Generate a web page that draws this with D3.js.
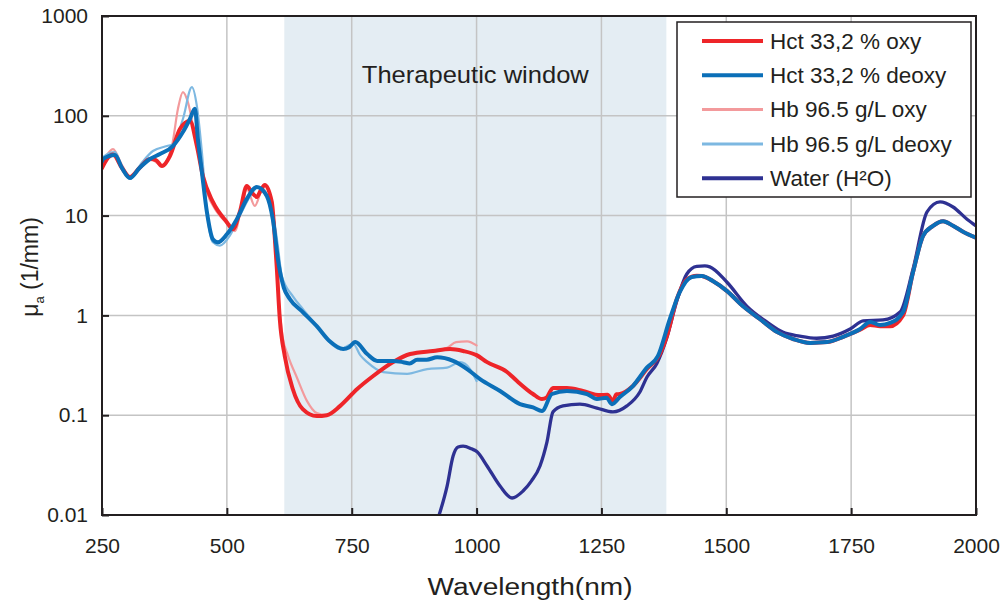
<!DOCTYPE html>
<html>
<head>
<meta charset="utf-8">
<script src="https://cdn.jsdelivr.net/npm/d3@7/dist/d3.min.js"></script>
<style>
  body { margin: 0; background: #fff; }
  #container { width: 1002px; height: 603px; }
  text { font-family: "Liberation Sans", Arial, sans-serif; fill: #231f20; }
</style>
</head>
<body>
<div id="container"></div>
<script>

var width = 1002;
var height = 603;

// wavelength (nm), mu_a (1/mm)
var hctOxy = [[250,30],[252,31.4],[262,38],[272,41],[290,30],[306,24.4],[325,30],[346,36.9],[358,36],[370,31.4],[386,39.5],
  [406,73.8],[426,88.7],[440,49.8],[452,24.9],[472,13.7],[500,8.6],[512,7.3],[526,10.9],[540,19.8],[550,17],[560,15.4],
  [568,18],[576,20.3],[590,13.7],[596,6],[600,3],[606,0.92],[616,0.39],[632,0.183],[652,0.115],[680,0.098],[700,0.1],
  [727,0.124],[761,0.183],[793,0.247],[833,0.341],[867,0.41],[913,0.44],[947,0.46],[973,0.44],[1000,0.4],[1021,0.34],
  [1061,0.271],[1081,0.22],[1113,0.163],[1131,0.145],[1140,0.15],[1153,0.187],[1181,0.187],[1213,0.175],[1247,0.159],
  [1262,0.16],[1273,0.139],[1280,0.162],[1287,0.163],[1313,0.196],[1341,0.29],[1367,0.41],[1381,0.62],[1401,1.46],
  [1421,2.3],[1441,2.5],[1451,2.48],[1473,2.21],[1501,1.76],[1533,1.24],[1567,0.92],[1602,0.68],[1634,0.58],[1668,0.53],
  [1702,0.54],[1734,0.61],[1768,0.72],[1788,0.8],[1808,0.78],[1828,0.78],[1854,1.0],[1874,2.72],[1894,6.25],[1914,7.9],
  [1934,8.8],[1954,7.9],[1974,6.9],[2000,6.0]];

var hctDeoxy = [[250,35],[252,36.9],[276,40.5],[290,30],[306,23.8],[325,30],[346,36.9],[366,41.4],[392,49.8],[412,68.8],
  [426,92.9],[436,118],[442,58.6],[450,27.4],[460,10.9],[472,5.8],[482,5.4],[500,6.5],[520,9.2],[540,14.7],[560,19.4],
  [580,15.7],[592,9.2],[604,3.2],[614,1.9],[626,1.46],[652,1.08],[680,0.78],[706,0.55],[733,0.46],[745,0.48],[757,0.54],
  [781,0.41],[801,0.35],[833,0.35],[853,0.34],[866,0.33],[881,0.36],[900,0.36],[921,0.38],[953,0.35],[981,0.29],
  [1007,0.23],[1047,0.175],[1087,0.129],[1113,0.12],[1131,0.11],[1151,0.163],[1181,0.175],[1221,0.163],[1241,0.145],
  [1260,0.15],[1271,0.129],[1287,0.152],[1313,0.196],[1341,0.3],[1363,0.39],[1387,0.92],[1407,1.72],[1431,2.43],
  [1451,2.48],[1473,2.21],[1501,1.76],[1533,1.24],[1567,0.92],[1602,0.68],[1634,0.58],[1668,0.53],[1702,0.54],
  [1734,0.61],[1768,0.73],[1788,0.86],[1808,0.8],[1828,0.84],[1854,1.08],[1874,2.72],[1894,6.25],[1914,7.9],
  [1934,8.8],[1954,7.9],[1974,6.9],[2000,6.0]];

var hbOxy = [[250,34],[252,35.2],[272,46.4],[290,32],[306,24.4],[325,30],[346,36.9],[370,32.1],[390,49.8],[402,117],
  [412,173],[422,137],[436,62.8],[446,34.4],[460,17.2],[480,10.9],[506,7.9],[516,7.0],[530,12.5],[540,18.5],[556,12.5],
  [572,18.5],[586,12.5],[596,6.3],[602,1.9],[612,0.6],[622,0.4],[640,0.24],[660,0.14],[680,0.105],[700,0.1],[727,0.125],
  [761,0.185],[793,0.25],[833,0.34],[867,0.41],[913,0.44],[940,0.47],[959,0.54],[981,0.55],[1000,0.5]];

var hbDeoxy = [[250,37],[252,38.6],[276,43.4],[290,30],[306,23.3],[330,34],[352,44.4],[380,49.8],[392,52.1],[412,92.9],
  [430,194],[440,125],[450,43.4],[460,10.9],[472,5.4],[486,5.0],[506,6.3],[526,10],[552,17.2],[562,19.4],[580,16.4],
  [592,10.9],[602,5.0],[610,2.5],[632,1.56],[652,1.16],[680,0.78],[700,0.58],[727,0.46],[753,0.52],[767,0.4],[781,0.34],
  [813,0.27],[861,0.26],[901,0.29],[941,0.3],[967,0.34],[987,0.29],[1000,0.22]];

var water = [[925,0.01],[941,0.0195],[953,0.039],[963,0.048],[973,0.049],[990,0.046],[1001,0.043],[1021,0.031],
  [1047,0.0195],[1071,0.0148],[1093,0.0174],[1110,0.022],[1127,0.031],[1141,0.054],[1153,0.108],[1173,0.124],
  [1207,0.129],[1241,0.118],[1273,0.108],[1301,0.124],[1327,0.171],[1341,0.24],[1361,0.33],[1381,0.6],[1401,1.4],
  [1421,2.6],[1441,3.1],[1457,3.13],[1467,3.06],[1501,2.16],[1541,1.24],[1581,0.86],[1613,0.68],[1647,0.62],
  [1681,0.59],[1714,0.62],[1748,0.73],[1774,0.88],[1814,0.9],[1848,1.08],[1874,2.92],[1902,10.9],[1928,13.7],
  [1954,12.2],[1982,9.2],[2000,7.9]];

var windowBand = [615, 1380];
var xTicks = [250, 500, 750, 1000, 1250, 1500, 1750, 2000];
var yTicks = [0.01, 0.1, 1, 10, 100, 1000];

var series = [
  {name:'Hb 96.5 g/L oxy', data:hbOxy, color:'#f39a9c', w:2.2},
  {name:'Hb 96.5 g/L deoxy', data:hbDeoxy, color:'#7db8e1', w:2.2},
  {name:'Water (H\u00B2O)', data:water, color:'#2e3192', w:3.3},
  {name:'Hct 33,2 % oxy', data:hctOxy, color:'#ee2529', w:4},
  {name:'Hct 33,2 % deoxy', data:hctDeoxy, color:'#0b6fb8', w:4}
];
var legendOrder = ['Hct 33,2 % oxy', 'Hct 33,2 % deoxy', 'Hb 96.5 g/L oxy', 'Hb 96.5 g/L deoxy', 'Water (H\u00B2O)'];

var margin = {left:102, right:26, top:16, bottom:88};

var svg = d3.select('#container')
  .append('svg')
  .attr('width', width)
  .attr('height', height);

var x = d3.scaleLinear()
  .domain([250, 2000])
  .range([margin.left, width - margin.right]);

var y = d3.scaleLog()
  .domain([0.01, 1000])
  .range([height - margin.bottom, margin.top]);

svg.append('clipPath')
  .attr('id', 'clip')
  .append('rect')
  .attr('x', x(250)).attr('y', y(1000))
  .attr('width', x(2000) - x(250)).attr('height', y(0.01) - y(1000));

// therapeutic window
svg.append('rect')
  .attr('x', x(windowBand[0]))
  .attr('y', y(1000))
  .attr('width', x(windowBand[1]) - x(windowBand[0]))
  .attr('height', y(0.01) - y(1000))
  .style('fill', '#e4edf3');

// grid
svg.selectAll('.vgrid')
  .data(xTicks.slice(1, -1))
  .enter().append('line')
  .attr('class', 'vgrid')
  .attr('x1', function(d){return x(d);}).attr('x2', function(d){return x(d);})
  .attr('y1', y(1000)).attr('y2', y(0.01))
  .style('stroke', '#c4c4c4').style('stroke-width', 1.5);

svg.selectAll('.hgrid')
  .data(yTicks.slice(1, -1))
  .enter().append('line')
  .attr('class', 'hgrid')
  .attr('y1', function(d){return y(d);}).attr('y2', function(d){return y(d);})
  .attr('x1', x(250)).attr('x2', x(2000))
  .style('stroke', '#c4c4c4').style('stroke-width', 1.5);

svg.append('text')
  .attr('x', x((windowBand[0] + windowBand[1]) / 2))
  .attr('y', 83)
  .attr('text-anchor', 'middle')
  .attr('textLength', 227)
  .attr('lengthAdjust', 'spacingAndGlyphs')
  .style('font-size', '24.5px')
  .text('Therapeutic window');

var line = d3.line()
  .x(function(d){return x(d[0]);})
  .y(function(d){return y(d[1]);})
  .curve(d3.curveMonotoneX);

svg.append('g')
  .attr('clip-path', 'url(#clip)')
  .selectAll('.curve')
  .data(series)
  .enter().append('path')
  .attr('class', 'curve')
  .attr('d', function(d){return line(d.data);})
  .style('fill', 'none')
  .style('stroke', function(d){return d.color;})
  .style('stroke-width', function(d){return d.w;})
  .style('stroke-linejoin', 'round')
  .style('stroke-linecap', 'round');

// axes
var xAxis = svg.append('g')
  .attr('transform', 'translate(0,' + y(0.01) + ')')
  .call(d3.axisBottom(x).tickValues(xTicks).tickFormat(d3.format('d'))
    .tickSizeInner(-7).tickSizeOuter(0).tickPadding(23));

var yAxis = svg.append('g')
  .attr('transform', 'translate(' + x(250) + ',0)')
  .call(d3.axisLeft(y).tickValues(yTicks).tickFormat(function(d){return String(d);})
    .tickSizeInner(-7).tickSizeOuter(0).tickPadding(14));

[xAxis, yAxis].forEach(function(a){
  a.select('.domain').remove();
  a.selectAll('.tick line').style('stroke', '#231f20').style('stroke-width', 2);
  a.selectAll('.tick text')
    .style('font-family', '"Liberation Sans", Arial, sans-serif')
    .style('font-size', '21px')
    .style('fill', '#231f20');
});

// frame
svg.append('rect')
  .attr('x', x(250)).attr('y', y(1000))
  .attr('width', x(2000) - x(250)).attr('height', y(0.01) - y(1000))
  .style('fill', 'none')
  .style('stroke', '#231f20')
  .style('stroke-width', 2);

svg.append('text')
  .attr('x', 530)
  .attr('y', 595)
  .attr('text-anchor', 'middle')
  .attr('textLength', 205)
  .attr('lengthAdjust', 'spacingAndGlyphs')
  .style('font-size', '23px')
  .text('Wavelength(nm)');

var ylab = svg.append('text')
  .attr('transform', 'translate(38,' + 267 + ') rotate(-90)')
  .attr('text-anchor', 'middle')
  .style('font-size', '23px');
ylab.append('tspan').text('\u03BC');
ylab.append('tspan').attr('dy', 6).style('font-size', '13px').text('a');
ylab.append('tspan').attr('dy', -6).text(' (1/mm)');

// legend
var legend = svg.append('g');
legend.append('rect')
  .attr('x', 677).attr('y', 22)
  .attr('width', 294).attr('height', 175)
  .style('fill', '#fff')
  .style('stroke', '#231f20')
  .style('stroke-width', 1.5);

var rows = legend.selectAll('.row')
  .data(legendOrder.map(function(n){return series.find(function(s){return s.name === n;});}))
  .enter().append('g')
  .attr('class', 'row')
  .attr('transform', function(d,i){return 'translate(0,' + (41 + i * 34.3) + ')';});

rows.append('line')
  .attr('x1', 702).attr('x2', 763)
  .style('stroke', function(d){return d.color;})
  .style('stroke-width', function(d){return d.w === 2.2 ? 3 : 4;});

rows.append('text')
  .attr('x', 770)
  .attr('dy', '0.35em')
  .style('font-size', '22.5px')
  .text(function(d){return d.name;});

</script>
</body>
</html>
